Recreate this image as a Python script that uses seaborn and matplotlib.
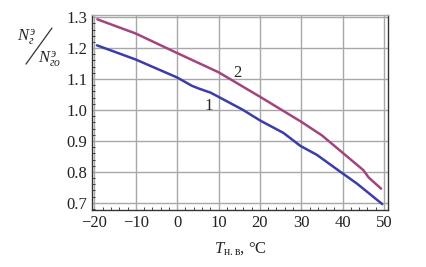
import numpy as np
import pandas as pd
import matplotlib
matplotlib.use('Agg')
import matplotlib.pyplot as plt
import seaborn as sns
from matplotlib.ticker import MultipleLocator

# кривая 1
t1 = [-19.4, -10, 0, 3.6, 5.3, 8.1, 15.7, 20.2, 25.7, 29.8, 33.8, 39.5, 43.5, 49.6]
n1 = [1.209, 1.163, 1.105, 1.078, 1.069, 1.056, 1.002, 0.965, 0.926, 0.884, 0.855, 0.800, 0.762, 0.696]
# кривая 2
t2 = [-19.3, -10, 0, 10, 20, 30, 35, 40, 45, 46.3, 49.3]
n2 = [1.293, 1.247, 1.184, 1.122, 1.043, 0.962, 0.918, 0.862, 0.806, 0.782, 0.746]

df = pd.concat([
    pd.DataFrame({'T': t1, 'N': n1, 'curve': '1'}),
    pd.DataFrame({'T': t2, 'N': n2, 'curve': '2'}),
])

sns.set_style('white')
plt.rcParams['font.family'] = ['Liberation Serif', 'DejaVu Serif']
plt.rcParams['mathtext.fontset'] = 'custom'
plt.rcParams['mathtext.rm'] = 'Liberation Serif'
plt.rcParams['mathtext.it'] = 'Liberation Serif:italic'

fig = plt.figure(figsize=(4.26, 2.67), dpi=100)
ax = fig.add_axes([0.216, 0.2135, 0.695, 0.7315])

sns.lineplot(data=df, x='T', y='N', hue='curve', palette={'1': '#3c3caa', '2': '#a3447f'},
             lw=1.8, legend=False, ax=ax, sort=False)

ax.set_xlim(-20.6, 51.0)
ax.set_ylim(0.677, 1.308)
ax.xaxis.set_major_locator(MultipleLocator(10))
ax.xaxis.set_minor_locator(MultipleLocator(2))
ax.yaxis.set_major_locator(MultipleLocator(0.1))
ax.yaxis.set_minor_locator(MultipleLocator(0.02))
ax.yaxis.set_major_formatter(matplotlib.ticker.FormatStrFormatter('%.1f'))
ax.grid(True, which='major', color='#a8a8a8', lw=1.0)
ax.tick_params(which='major', direction='in', length=4, width=0.8, labelsize=12,
               colors='#222222', top=False, right=False)
ax.tick_params(which='minor', direction='in', length=2, width=0.6, left=True, bottom=True)
for s in ax.spines.values():
    s.set_color('#333333')
    s.set_linewidth(1.0)
ax.spines['top'].set_color('#aaaaaa')

ax.set_xlabel('')
ax.set_ylabel('')
ax.text(14.5, 1.118, '2', fontsize=12, ha='center', va='center')
ax.text(7.7, 1.014, '1', fontsize=12, ha='center', va='center')

fig.text(0.565, 0.055, r'$T_{\mathrm{н.в}}$, °C', fontsize=12, ha='center')
# дробь N_г / N_го
fig.text(0.04, 0.845, r'$N_{г}^{э}$', fontsize=12, ha='left')
fig.text(0.09, 0.762, r'$N_{го}^{э}$', fontsize=12, ha='left')
fig.add_artist(plt.Line2D([0.061, 0.122], [0.76, 0.895], color='#333333', lw=0.9))

fig.savefig('out.png', dpi=100)
